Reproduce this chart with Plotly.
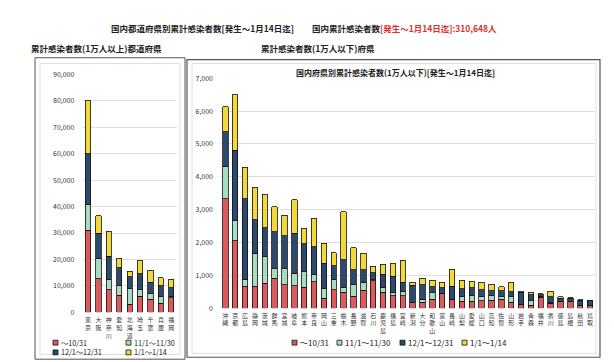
import plotly.graph_objects as go

W, H = 614, 362

# ---- data: prefectures with 10,000+ cases ----
big_prefs = ["東京", "大阪", "神奈川", "愛知", "北海道", "埼玉", "千葉", "兵庫", "福岡"]
big_oct = [31000, 12700, 8600, 6400, 3100, 6100, 4900, 3400, 5500]
big_nov = [9800, 7500, 3900, 3600, 5700, 2500, 2100, 2400, 600]
big_dec = [19300, 9800, 8700, 6800, 4700, 5900, 4300, 4200, 3100]
big_jan = [20000, 6500, 9400, 3700, 2100, 4900, 4600, 3100, 3300]

# ---- data: prefectures with under 10,000 cases ----
small_prefs = ["沖縄", "京都", "広島", "静岡", "茨城", "群馬", "宮城", "岐阜", "熊本", "奈良",
               "岡山", "三重", "栃木", "長野", "滋賀", "石川", "鹿児島", "福島", "宮崎", "新潟",
               "大分", "和歌山", "富山", "長崎", "山梨", "愛媛", "山口", "高知", "佐賀", "山形",
               "岩手", "青森", "福井", "香川", "徳島", "島根", "秋田", "鳥取"]
small_oct = [3330, 2060, 670, 670, 770, 910, 720, 690, 640, 810,
             300, 570, 490, 360, 550, 840, 490, 380, 380, 170,
             180, 280, 440, 260, 210, 220, 230, 250, 280, 180,
             110, 100, 330, 150, 210, 200, 80, 80]
small_nov = [990, 600, 200, 1010, 810, 310, 500, 380, 480, 210,
             300, 300, 130, 360, 250, 30, 130, 110, 120, 10,
             100, 190, 20, 20, 140, 170, 130, 140, 70, 170,
             10, 130, 30, 20, 10, 10, 10, 20]
small_dec = [1050, 2150, 2460, 1010, 870, 1110, 980, 1220, 850, 860,
             770, 430, 860, 460, 380, 210, 420, 480, 290, 520,
             440, 180, 170, 390, 250, 240, 210, 150, 190, 150,
             370, 190, 60, 180, 80, 100, 160, 140]
small_jan = [760, 1680, 960, 990, 1020, 760, 630, 1010, 470, 860,
             610, 390, 1460, 660, 500, 200, 300, 400, 670, 90,
             200, 200, 170, 520, 250, 190, 220, 200, 110, 300,
             20, 70, 30, 170, 50, 10, 15, 10]

period_names = ["～10/31", "11/1～11/30", "12/1～12/31", "1/1～1/14"]
colors = ["#dc5a5c", "#a8dcbf", "#2c4a6e", "#f3d83a"]

FONT = "Noto Sans CJK JP"


def vert(s):
    return "<br>".join(list(s))


def px(x):
    return x / W


def py(y):
    return 1 - y / H


fig = go.Figure()

big_series = [big_oct, big_nov, big_dec, big_jan]
small_series = [small_oct, small_nov, small_dec, small_jan]

for name, vals, col in zip(period_names, big_series, colors):
    fig.add_trace(go.Bar(
        x=big_prefs, y=vals, name=name, marker=dict(color=col, line=dict(color="#111", width=0.8)),
        width=0.5, xaxis="x2", yaxis="y2", showlegend=False))

for name, vals, col in zip(period_names, small_series, colors):
    fig.add_trace(go.Bar(
        x=small_prefs, y=vals, name=name, marker=dict(color=col, line=dict(color="#111", width=0.8)),
        width=0.55, xaxis="x", yaxis="y", showlegend=False))

axis_font = dict(family=FONT, size=7, color="#333")
xtick_font = dict(family=FONT, size=6, color="#333")

fig.update_layout(
    width=W, height=H, autosize=False,
    margin=dict(l=0, r=0, t=0, b=0),
    paper_bgcolor="white", plot_bgcolor="rgba(0,0,0,0)",
    barmode="stack",
    font=dict(family=FONT, color="#222"),
    xaxis=dict(domain=[px(212.4), px(587)], anchor="y", type="category",
               tickvals=small_prefs, ticktext=[vert(p) for p in small_prefs],
               tickangle=0, tickfont=xtick_font,
               showgrid=False, showline=False, zeroline=False,
               ticks="outside", ticklen=1, tickcolor="rgba(0,0,0,0)"),
    yaxis=dict(domain=[py(302.7), py(66)], anchor="x", range=[0, 7000],
               tickvals=[0, 1000, 2000, 3000, 4000, 5000, 6000, 7000],
               tickformat=",d", tickfont=axis_font,
               showgrid=True, gridcolor="#dedede", gridwidth=1,
               zeroline=False, showline=False,
               ticks="outside", ticklen=5, tickcolor="rgba(0,0,0,0)"),
    xaxis2=dict(domain=[px(74.8), px(168.5)], anchor="y2", type="category",
                tickvals=big_prefs, ticktext=[vert(p) for p in big_prefs],
                tickangle=0, tickfont=xtick_font,
                showgrid=False, showline=False, zeroline=False,
                ticks="outside", ticklen=2, tickcolor="rgba(0,0,0,0)"),
    yaxis2=dict(domain=[py(306.7), py(62.3)], anchor="x2", range=[0, 90000],
                tickvals=[0, 10000, 20000, 30000, 40000, 50000, 60000, 70000, 80000, 90000],
                tickformat=",d", tickfont=axis_font,
                showgrid=True, gridcolor="#dedede", gridwidth=1,
                zeroline=False, showline=False,
                ticks="outside", ticklen=6, tickcolor="rgba(0,0,0,0)"),
)

shapes = []
# outer boxes
shapes.append(dict(type="rect", xref="paper", yref="paper",
                   x0=px(27), x1=px(177), y0=py(355), y1=py(45),
                   line=dict(color="#555", width=1), layer="below"))
shapes.append(dict(type="rect", xref="paper", yref="paper",
                   x0=px(32), x1=px(172), y0=py(350), y1=py(51),
                   line=dict(color="#dddddd", width=1), layer="below"))
shapes.append(dict(type="rect", xref="paper", yref="paper",
                   x0=px(179), x1=px(592), y0=py(353), y1=py(47),
                   line=dict(color="#555", width=1.2), layer="below"))
shapes.append(dict(type="rect", xref="paper", yref="paper",
                   x0=px(184), x1=px(588), y0=py(349), y1=py(51),
                   line=dict(color="#dddddd", width=1), layer="below"))

annotations = []


def text(x, y, s, size=8, color="#222", anchor="left", bold=True):
    annotations.append(dict(
        xref="paper", yref="paper", x=px(x), y=py(y), text=("<b>%s</b>" % s) if bold else s,
        showarrow=False, xanchor=anchor, yanchor="middle",
        font=dict(family=FONT, size=size, color=color)))


text(195, 14, "国内都道府県別累計感染者数[発生～1月14日迄]", size=8.5, anchor="center")
text(302, 14, "国内累計感染者数<span style='color:#e0302c'>[発生～1月14日迄]:310,648人</span>",
     size=8.5, anchor="left")
text(88, 35, "累計感染者数(1万人以上)都道府県", size=8.5, anchor="center")
text(310, 35, "累計感染者数(1万人以下)府県", size=8.5, anchor="center")
text(388, 60, "国内府県別累計感染者数(1万人以下)[発生～1月14日迄]", size=8, anchor="center")


def legend_item(x, y, col, label, size=8):
    shapes.append(dict(type="rect", xref="paper", yref="paper",
                       x0=px(x), x1=px(x + 5), y0=py(y + 2.5), y1=py(y - 2.5),
                       fillcolor=col, line=dict(color="#111", width=0.8)))
    text(x + 6, y, label, size=size, color="#222", anchor="left", bold=False)


# left legend (2x2)
legend_item(45, 338, colors[0], period_names[0], size=7.2)
legend_item(118, 338, colors[1], period_names[1], size=7.2)
legend_item(45, 348, colors[2], period_names[2], size=7.2)
legend_item(118, 348, colors[3], period_names[3], size=7.2)
# right legend (1 row)
legend_item(284, 338, colors[0], period_names[0])
legend_item(329, 338, colors[1], period_names[1])
legend_item(392, 338, colors[2], period_names[2])
legend_item(454, 338, colors[3], period_names[3])

fig.update_layout(shapes=shapes, annotations=annotations)

fig.write_html("out.html")
